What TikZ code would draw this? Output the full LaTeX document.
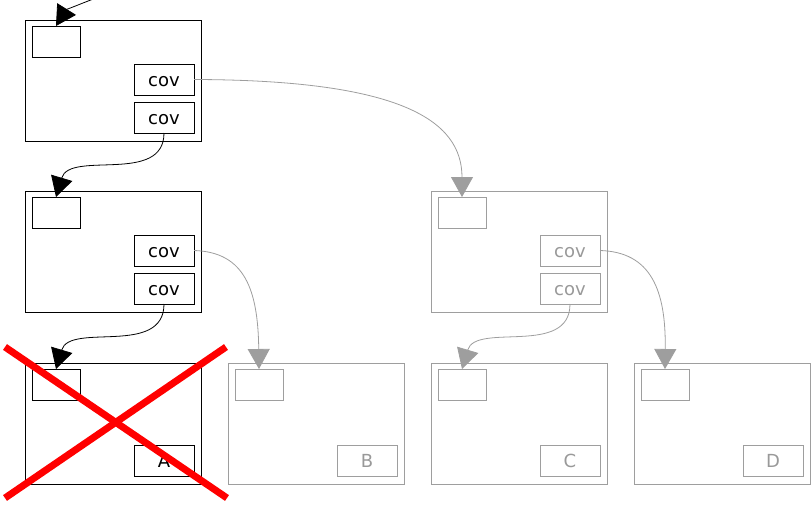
\documentclass[tikz,border=0pt]{standalone}
\usepackage{fontspec}
\setmainfont{DejaVu Sans}
\usetikzlibrary{arrows.meta}
\definecolor{gr}{HTML}{9E9E9E}
\definecolor{grt}{HTML}{999999}
\tikzset{
  outerbox/.style={draw, line width=0.8pt, minimum width=176pt, minimum height=121pt, anchor=north west, inner sep=0pt, outer sep=0pt},
  innerbox/.style={draw, line width=0.8pt, minimum width=48pt, minimum height=31pt, anchor=north west, inner sep=0pt, outer sep=0pt},
  labbox/.style={draw, line width=0.8pt, minimum width=60pt, minimum height=31pt, anchor=north west, inner sep=0pt, outer sep=0pt, font=\fontsize{18}{21}\selectfont},
  covtext/.style={text height=14.5pt, text depth=0pt},
  faded/.style={draw=gr, text=grt},
  blkarrow/.style={line width=0.8pt, -{Triangle[width=22pt,length=20pt]}},
  grarrow/.style={line width=0.8pt, draw=gr, -{Triangle[width=22pt,length=20pt,fill=gr]}},
  crossline/.style={draw=red, line width=7pt},
}
\begin{document}
\begin{tikzpicture}[x=1pt,y=-1pt]
\useasboundingbox (0,0) rectangle (812,509);
% left column
\node[outerbox] (o1) at (25,20) {};
\node[innerbox] (i1) at (32,26) {};
\node[labbox,covtext] (c11) at (134,64) {cov};
\node[labbox,covtext] (c12) at (134,102) {cov};

\node[outerbox] (o2) at (25,191) {};
\node[innerbox] (i2) at (32,197) {};
\node[labbox,covtext] (c21) at (134,235) {cov};
\node[labbox,covtext] (c22) at (134,273) {cov};

\node[outerbox] (o3) at (25,363) {};
\node[innerbox] (i3) at (32,369) {};
\node[labbox] (la) at (134,445) {A};

% faded boxes
\node[outerbox,faded] (ob) at (228,363) {};
\node[innerbox,faded] (ib) at (235,369) {};
\node[labbox,faded] (lb) at (337,445) {B};

\node[outerbox,faded] (o4) at (431,191) {};
\node[innerbox,faded] (i4) at (438,197) {};
\node[labbox,faded,covtext] (c41) at (540,235) {cov};
\node[labbox,faded,covtext] (c42) at (540,273) {cov};

\node[outerbox,faded] (oc) at (431,363) {};
\node[innerbox,faded] (ic) at (438,369) {};
\node[labbox,faded] (lc) at (540,445) {C};

\node[outerbox,faded] (od) at (634,363) {};
\node[innerbox,faded] (id) at (641,369) {};
\node[labbox,faded] (ld) at (743,445) {D};

% connectors
\coordinate (top) at (96,-2);
\draw[blkarrow] (top) .. controls (80,4) and (66,10) .. (i1.north);
\draw[blkarrow] (c12.south) .. controls (164,185) and (70,150) .. (i2.north);
\draw[blkarrow] (c22.south) .. controls (164,357) and (70,322) .. (i3.north);
\draw[grarrow] (c42.south) .. controls (570,357) and (476,322) .. (ic.north);

\draw[grarrow] (c11.east) .. controls (400,80) and (462,120) .. (i4.north);
\draw[grarrow] (c21.east) .. controls (245,252) and (258,290) .. (ib.north);
\draw[grarrow] (c41.east) .. controls (651,252) and (666,290) .. (id.north);

% red cross
\coordinate (x1) at (5,347);
\coordinate (x2) at (227,498);
\coordinate (x3) at (5,498);
\coordinate (x4) at (226,347);
\draw[crossline] (x1) -- (x2);
\draw[crossline] (x3) -- (x4);
\end{tikzpicture}
\end{document}
